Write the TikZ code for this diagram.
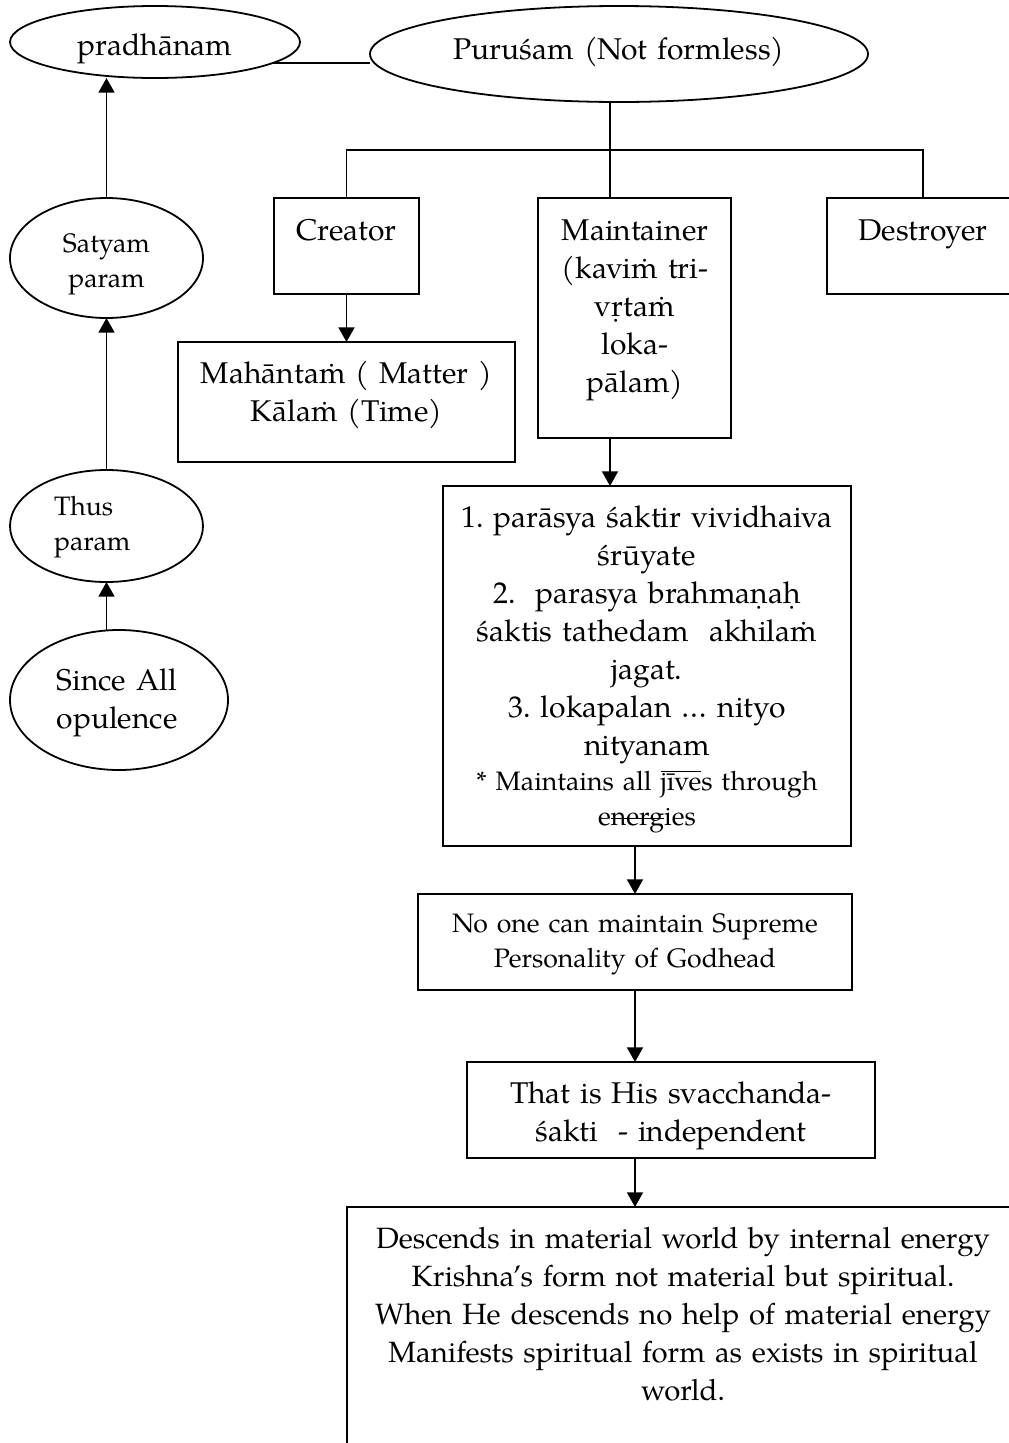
\documentclass[tikz,border=0pt]{standalone}
\usepackage{fontspec}
\setmainfont{texgyrepagella}[Extension=.otf, UprightFont=*-regular, ItalicFont=*-italic, BoldFont=*-bold, BoldItalicFont=*-bolditalic]
\usetikzlibrary{shapes.geometric,arrows.meta}

% one unit of the drawing
\newcommand\pxu{0.75pt}
\newcommand\bigtxt{\fontsize{22.5}{28.5}\selectfont}
\newcommand\bottxt{\fontsize{22}{28.5}\selectfont}
\newcommand\smalltxt{\fontsize{20}{26.5}\selectfont}
% m with a dot above
\newcommand\mdot{m^^^^0307}

% rules through and over words
\newsavebox\markbox
\newcommand\strikeword[1]{\sbox\markbox{#1}\rlap{\rule[0.23em]{\wd\markbox}{0.06em}}\usebox\markbox}
\newcommand\overword[1]{\sbox\markbox{#1}\rlap{\rule[0.66em]{\wd\markbox}{0.06em}}\usebox\markbox}

\tikzset{
  box/.style={draw, rectangle, inner sep=0pt, outer sep=0pt},
  oval/.style={draw, ellipse, inner sep=0pt, outer sep=0pt},
  lbl/.style={inner sep=0pt, outer sep=0pt, align=center, anchor=base, text width=#1},
  arr/.style={-{Triangle[width=12pt,length=11pt]}},
}

\begin{document}
\frenchspacing
\begin{tikzpicture}[x=\pxu, y=-\pxu, line width=1.35pt]
\useasboundingbox (0,0) rectangle (1009,1443);
\clip (0,0) rectangle (1009,1443);

% ovals
\node[oval, minimum width=290*\pxu, minimum height=72*\pxu]  (pra)   at (155,42)    {};
\node[oval, minimum width=498*\pxu, minimum height=96*\pxu]  (pur)   at (619,54)    {};
\node[oval, minimum width=193*\pxu, minimum height=120*\pxu] (sat)   at (106.5,258) {};
\node[oval, minimum width=193*\pxu, minimum height=112*\pxu] (thus)  at (106.5,526) {};
\node[oval, minimum width=218*\pxu, minimum height=140*\pxu] (since) at (119,700)   {};

% boxes
\node[box, minimum width=145*\pxu, minimum height=96*\pxu]  (cre)   at (346.5,246) {};
\node[box, minimum width=193*\pxu, minimum height=240*\pxu] (mai)   at (634.5,318) {};
\node[box, minimum width=192*\pxu, minimum height=96*\pxu]  (des)   at (923,246)   {};
\node[box, minimum width=337*\pxu, minimum height=120*\pxu] (mah)   at (346.5,402) {};
\node[box, minimum width=408*\pxu, minimum height=360*\pxu] (big)   at (647,666)   {};
\node[box, minimum width=434*\pxu, minimum height=96*\pxu]  (noone) at (635,942)   {};
\node[box, minimum width=408*\pxu, minimum height=96*\pxu]  (that)  at (671,1110)  {};
\node[box, minimum width=672*\pxu, minimum height=293*\pxu] (bot)   at (683,1353.5) {};

% texts of the ovals
\node[lbl=200pt, font=\bigtxt]   (tpra)   at (155,55)    {pradhānam};
\node[lbl=400pt, font=\bigtxt]   (tpur)   at (619,59)    {Puruśam (Not formless)};
\node[lbl=150pt, font=\smalltxt] (tsat)   at (106.5,252) {Satyam\\param};
\node[lbl=150pt, font=\smalltxt, align=left, anchor=base west] (tthus) at (54,515) {Thus\\param};
\node[lbl=150pt, font=\bigtxt]   (tsince) at (117,690)   {Since All\\opulence};

% texts of the boxes
\node[lbl=150pt, font=\bigtxt] (tcre) at (346.5,240) {Creator};
\node[lbl=150pt, font=\bigtxt] (tdes) at (923,240)   {Destroyer};
\node[lbl=150pt, font=\bigtxt] (tmai) at (635,240)   {Maintainer\\(kavi\mdot{} tri-\\vṛta\mdot\\loka-\\pālam)};
\node[lbl=300pt, font=\bigtxt] (tmah) at (346.5,383) {Mahānta\mdot{} ( Matter )\\Kāla\mdot{} (Time)};
\node[lbl=380pt, font=\bigtxt] (tbig) at (647,527)
  {1. parāsya śaktir vividhaiva\\śrūyate\\2.\ \ parasya brahmaṇaḥ\\śaktis tathedam\ \ akhila\mdot\\jagat.\\3. lokapalan … nityo\\nityanam};
\node[lbl=380pt, font=\smalltxt] (tbig2) at (647,790)
  {* Maintains all \overword{jīve}s through\\e\strikeword{nerg}ies};
\node[lbl=400pt, font=\smalltxt] (tno)   at (635,932)  {No one can maintain Supreme\\Personality of Godhead};
\node[lbl=400pt, font=\bigtxt]   (tthat) at (671,1103) {That is His svacchanda-\\śakti\ \ - independent};
\node[lbl=640pt, font=\bottxt]   (tbot)  at (683,1248)
  {Descends in material world by internal energy\\Krishna’s form not material but spiritual.\\When He descends no help of material energy\\Manifests spiritual form as exists in spiritual\\world.};

% connectors
\coordinate (bus) at (610,150);
\draw (pra.-10) -- (pra.-10 -| pur.west);
\draw (pur.south -| bus) -- (bus |- mai.north);
\draw (cre.north) |- (bus) -| (des.north);
\draw[arr] (sat.north) -- (sat.north |- pra.south);
\draw[arr] (thus.north) -- (sat.south);
\draw[arr] (thus.south |- since.north) -- (thus.south);
\draw[arr] (cre.south) -- (mah.north);
\draw[arr] (bus |- mai.south) -- (bus |- big.north);
\draw[arr] (noone.north |- big.south) -- (noone.north);
\draw[arr] (noone.south) -- (noone.south |- that.north);
\draw[arr] (noone.south |- that.south) -- (noone.south |- bot.north);
\end{tikzpicture}
\end{document}
